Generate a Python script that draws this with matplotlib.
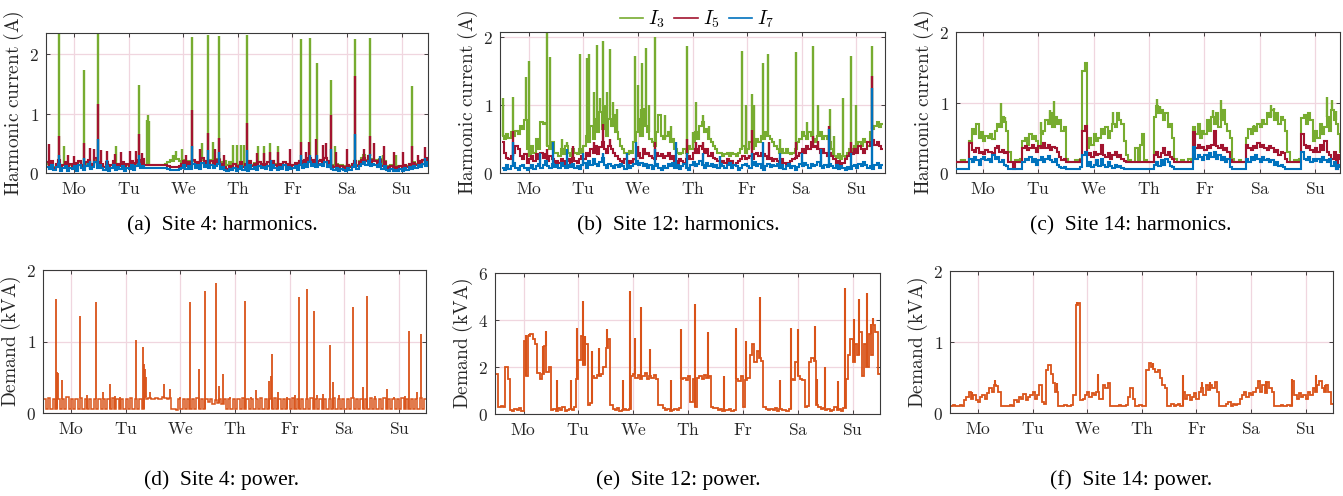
import numpy as np
import matplotlib.pyplot as plt

plt.rcParams['mathtext.fontset'] = 'cm'

days = ["Mo", "Tu", "We", "Th", "Fr", "Sa", "Su"]

# hourly readings, one row per day (noon before -> noon after the day tick)
# ---- site 4 harmonics (A)
s4_i3 = [
    [0.15, 0.12, 0.18, 0.10, 0.14, 0.20, 0.10, 0.13, 0.17, 0.10, 0.14, 0.12, 0.15, 0.10, 0.18, 0.12, 0.10, 0.16, 0.20, 0.12, 0.15, 0.22, 0.14, 0.18],
    [0.14, 0.10, 0.16, 0.09, 0.13, 0.18, 0.10, 0.15, 0.11, 0.17, 0.09, 0.14, 0.12, 0.18, 0.10, 0.16, 0.20, 0.14, 0.20, 0.14, 0.14, 0.14, 0.14, 0.14],
    [0.14, 0.14, 0.14, 0.14, 0.15, 0.18, 0.22, 0.20, 0.28, 0.24, 0.20, 0.16, 0.22, 0.13, 0.20, 0.12, 0.20, 0.15, 0.18, 0.14, 0.22, 0.16, 0.20, 0.15],
    [0.22, 0.16, 0.20, 0.24, 0.15, 0.18, 0.20, 0.14, 0.18, 0.15, 0.16, 0.12, 0.14, 0.18, 0.12, 0.16, 0.12, 0.20, 0.14, 0.17, 0.12, 0.18, 0.14, 0.16],
    [0.14, 0.18, 0.12, 0.20, 0.15, 0.12, 0.16, 0.13, 0.18, 0.12, 0.15, 0.12, 0.14, 0.17, 0.12, 0.20, 0.15, 0.22, 0.17, 0.24, 0.20, 0.22, 0.17, 0.20],
    [0.22, 0.20, 0.25, 0.17, 0.20, 0.14, 0.12, 0.15, 0.10, 0.13, 0.12, 0.11, 0.14, 0.12, 0.16, 0.20, 0.14, 0.20, 0.25, 0.30, 0.22, 0.28, 0.20, 0.24],
    [0.22, 0.18, 0.24, 0.15, 0.20, 0.12, 0.10, 0.13, 0.10, 0.12, 0.11, 0.12, 0.10, 0.14, 0.12, 0.16, 0.14, 0.18, 0.16, 0.20, 0.18, 0.22, 0.20, 0.24],
]
s4_i5 = [
    [0.18, 0.12, 0.20, 0.09, 0.16, 0.22, 0.10, 0.14, 0.19, 0.08, 0.15, 0.12, 0.17, 0.09, 0.20, 0.13, 0.10, 0.18, 0.22, 0.12, 0.16, 0.25, 0.14, 0.19],
    [0.15, 0.10, 0.18, 0.08, 0.14, 0.20, 0.09, 0.16, 0.11, 0.19, 0.08, 0.15, 0.12, 0.20, 0.10, 0.17, 0.22, 0.14, 0.24, 0.13, 0.13, 0.13, 0.13, 0.13],
    [0.13, 0.13, 0.13, 0.13, 0.13, 0.12, 0.10, 0.10, 0.10, 0.10, 0.11, 0.15, 0.20, 0.12, 0.18, 0.10, 0.22, 0.15, 0.19, 0.12, 0.25, 0.16, 0.20, 0.14],
    [0.20, 0.13, 0.18, 0.22, 0.12, 0.16, 0.10, 0.07, 0.12, 0.09, 0.15, 0.08, 0.12, 0.18, 0.10, 0.15, 0.09, 0.20, 0.12, 0.16, 0.10, 0.18, 0.13, 0.15],
    [0.12, 0.18, 0.10, 0.20, 0.14, 0.09, 0.16, 0.12, 0.19, 0.10, 0.15, 0.11, 0.13, 0.17, 0.10, 0.20, 0.14, 0.22, 0.16, 0.25, 0.18, 0.22, 0.15, 0.20],
    [0.22, 0.18, 0.25, 0.15, 0.20, 0.12, 0.10, 0.14, 0.08, 0.12, 0.10, 0.09, 0.13, 0.10, 0.15, 0.20, 0.12, 0.18, 0.22, 0.25, 0.20, 0.28, 0.18, 0.22],
    [0.20, 0.15, 0.22, 0.12, 0.18, 0.10, 0.08, 0.12, 0.07, 0.10, 0.09, 0.11, 0.08, 0.13, 0.10, 0.15, 0.12, 0.17, 0.14, 0.20, 0.16, 0.22, 0.18, 0.25],
]
s4_i7 = [
    [0.10, 0.06, 0.13, 0.05, 0.10, 0.15, 0.04, 0.08, 0.12, 0.03, 0.09, 0.06, 0.11, 0.04, 0.13, 0.08, 0.05, 0.12, 0.16, 0.07, 0.10, 0.18, 0.09, 0.13],
    [0.09, 0.05, 0.12, 0.04, 0.08, 0.13, 0.05, 0.10, 0.06, 0.12, 0.04, 0.09, 0.07, 0.13, 0.05, 0.11, 0.15, 0.08, 0.12, 0.08, 0.08, 0.08, 0.08, 0.08],
    [0.08, 0.08, 0.08, 0.08, 0.08, 0.06, 0.05, 0.05, 0.05, 0.05, 0.06, 0.09, 0.13, 0.07, 0.12, 0.06, 0.15, 0.09, 0.13, 0.07, 0.17, 0.10, 0.14, 0.09],
    [0.14, 0.08, 0.12, 0.15, 0.07, 0.10, 0.05, 0.03, 0.07, 0.05, 0.09, 0.04, 0.07, 0.12, 0.05, 0.10, 0.04, 0.13, 0.07, 0.10, 0.05, 0.12, 0.08, 0.10],
    [0.07, 0.12, 0.05, 0.14, 0.09, 0.05, 0.10, 0.07, 0.13, 0.05, 0.10, 0.06, 0.08, 0.11, 0.05, 0.14, 0.09, 0.16, 0.10, 0.18, 0.12, 0.15, 0.10, 0.14],
    [0.15, 0.12, 0.18, 0.10, 0.14, 0.07, 0.05, 0.09, 0.04, 0.07, 0.05, 0.04, 0.08, 0.05, 0.10, 0.14, 0.07, 0.12, 0.15, 0.18, 0.13, 0.20, 0.12, 0.15],
    [0.14, 0.10, 0.15, 0.07, 0.12, 0.05, 0.04, 0.07, 0.03, 0.05, 0.04, 0.06, 0.04, 0.08, 0.05, 0.10, 0.07, 0.12, 0.09, 0.14, 0.10, 0.16, 0.12, 0.18],
]
# short bursts: (day, peak)
s4_i3_spikes = [(-0.27, 2.40), (-0.18, 0.45), (0.18, 1.74), (0.45, 2.40), (0.77, 0.45), (1.19, 1.48),
                (1.33, 0.90), (1.35, 0.98), (1.37, 0.88), (1.81, 0.30), (1.87, 0.37), (1.97, 0.40),
                (2.17, 2.29), (2.34, 0.50), (2.45, 2.32), (2.55, 0.52), (2.65, 2.31), (2.91, 0.48),
                (2.98, 0.48), (3.05, 0.48), (3.12, 0.47), (3.17, 2.32), (3.37, 0.45), (3.47, 0.45),
                (3.58, 0.50), (3.74, 0.45), (4.16, 2.26), (4.32, 2.27), (4.44, 1.86), (4.71, 1.56),
                (4.78, 0.45), (5.15, 2.26), (5.41, 2.28), (5.65, 0.30), (5.90, 0.30), (6.18, 1.46)]
s4_i5_spikes = [(-0.45, 0.49), (-0.27, 0.62), (-0.10, 0.30), (0.00, 0.28), (0.18, 0.50), (0.30, 0.42),
                (0.36, 0.40), (0.45, 1.17), (0.50, 0.38), (0.60, 0.37), (0.75, 0.32), (0.87, 0.35),
                (1.02, 0.37), (1.13, 0.37), (1.19, 0.66), (1.25, 0.33), (2.05, 0.30), (2.17, 1.06),
                (2.30, 0.40), (2.45, 0.67), (2.58, 0.40), (2.65, 0.59), (2.75, 0.30), (3.17, 0.84),
                (3.35, 0.33), (3.47, 0.33), (3.58, 0.35), (3.74, 0.35), (3.96, 0.40), (4.16, 0.53),
                (4.25, 0.35), (4.30, 0.53), (4.43, 0.58), (4.55, 0.48), (4.62, 0.50), (4.71, 0.98),
                (4.80, 0.35), (5.00, 0.40), (5.15, 1.64), (5.30, 0.40), (5.41, 0.63), (5.50, 0.50),
                (5.68, 0.45), (5.86, 0.35), (6.02, 0.35), (6.18, 0.46), (6.30, 0.30), (6.43, 0.43)]
s4_i7_spikes = [(-0.27, 0.30), (0.18, 0.25), (0.30, 0.20), (0.45, 0.57), (0.60, 0.22), (1.19, 0.30),
                (2.17, 0.45), (2.45, 0.38), (2.65, 0.35), (3.17, 0.38), (3.60, 0.22), (4.16, 0.30),
                (4.32, 0.30), (4.44, 0.30), (4.71, 0.40), (5.15, 0.66), (5.41, 0.32), (5.60, 0.28),
                (6.43, 0.25)]

# ---- site 12 harmonics (A)
s12_i3 = [
    [0.55, 0.50, 0.58, 0.52, 0.60, 0.55, 0.62, 0.58, 0.70, 0.65, 0.78, 0.35, 0.25, 0.40, 0.30, 0.50, 0.35, 0.75, 0.72, 0.74, 0.40, 0.35, 0.45, 0.30],
    [0.30, 0.25, 0.35, 0.28, 0.40, 0.30, 0.25, 0.35, 0.30, 0.28, 0.35, 0.30, 0.40, 0.55, 0.45, 0.70, 0.50, 0.80, 0.60, 0.90, 0.65, 0.75, 0.55, 0.80],
    [0.70, 0.85, 0.60, 0.50, 0.40, 0.35, 0.30, 0.28, 0.32, 0.30, 0.45, 0.60, 0.80, 0.55, 0.95, 0.70, 0.60, 0.50, 0.45, 0.40, 0.60, 0.85, 0.55, 0.50],
    [0.55, 0.60, 0.45, 0.50, 0.35, 0.30, 0.28, 0.30, 0.35, 0.30, 0.40, 0.35, 0.45, 0.60, 0.50, 0.70, 0.75, 0.60, 0.65, 0.50, 0.45, 0.40, 0.35, 0.30],
    [0.30, 0.25, 0.28, 0.30, 0.25, 0.30, 0.28, 0.25, 0.30, 0.35, 0.40, 0.30, 0.35, 0.45, 0.35, 0.40, 0.50, 0.45, 0.55, 0.50, 0.60, 0.55, 0.50, 0.45],
    [0.40, 0.35, 0.30, 0.35, 0.30, 0.35, 0.30, 0.28, 0.30, 0.35, 0.45, 0.50, 0.60, 0.55, 0.50, 0.60, 0.55, 0.50, 0.45, 0.55, 0.60, 0.50, 0.55, 0.50],
    [0.45, 0.35, 0.25, 0.22, 0.28, 0.20, 0.25, 0.22, 0.30, 0.35, 0.30, 0.40, 0.35, 0.45, 0.40, 0.50, 0.45, 0.40, 0.60, 0.65, 0.70, 0.75, 0.68, 0.72],
]
s12_i5 = [
    [0.45, 0.30, 0.22, 0.20, 0.25, 0.30, 0.40, 0.35, 0.25, 0.20, 0.28, 0.15, 0.20, 0.25, 0.18, 0.28, 0.20, 0.30, 0.22, 0.28, 0.18, 0.25, 0.20, 0.15],
    [0.18, 0.15, 0.20, 0.14, 0.18, 0.20, 0.15, 0.22, 0.18, 0.15, 0.20, 0.25, 0.20, 0.30, 0.25, 0.35, 0.30, 0.40, 0.28, 0.38, 0.45, 0.35, 0.30, 0.40],
    [0.35, 0.30, 0.25, 0.20, 0.18, 0.15, 0.20, 0.15, 0.18, 0.15, 0.20, 0.25, 0.30, 0.22, 0.35, 0.28, 0.30, 0.25, 0.22, 0.20, 0.30, 0.25, 0.28, 0.22],
    [0.25, 0.30, 0.20, 0.25, 0.18, 0.15, 0.20, 0.18, 0.15, 0.20, 0.25, 0.20, 0.30, 0.35, 0.30, 0.40, 0.35, 0.30, 0.35, 0.25, 0.30, 0.22, 0.20, 0.18],
    [0.15, 0.18, 0.15, 0.20, 0.15, 0.18, 0.12, 0.15, 0.18, 0.20, 0.25, 0.20, 0.22, 0.25, 0.20, 0.28, 0.30, 0.25, 0.30, 0.28, 0.25, 0.20, 0.22, 0.18],
    [0.20, 0.18, 0.15, 0.20, 0.15, 0.12, 0.15, 0.18, 0.20, 0.22, 0.25, 0.30, 0.35, 0.30, 0.40, 0.35, 0.45, 0.38, 0.40, 0.35, 0.30, 0.35, 0.30, 0.25],
    [0.30, 0.25, 0.20, 0.15, 0.18, 0.12, 0.15, 0.20, 0.25, 0.30, 0.28, 0.35, 0.30, 0.40, 0.35, 0.30, 0.35, 0.45, 0.40, 0.48, 0.42, 0.45, 0.40, 0.35],
]
s12_i7 = [
    [0.08, 0.05, 0.12, 0.06, 0.10, 0.15, 0.08, 0.05, 0.10, 0.12, 0.07, 0.04, 0.08, 0.12, 0.06, 0.10, 0.14, 0.08, 0.12, 0.18, 0.10, 0.07, 0.13, 0.09],
    [0.12, 0.08, 0.15, 0.10, 0.07, 0.12, 0.09, 0.14, 0.08, 0.10, 0.06, 0.12, 0.15, 0.08, 0.18, 0.12, 0.20, 0.14, 0.10, 0.16, 0.22, 0.12, 0.08, 0.14],
    [0.10, 0.07, 0.12, 0.09, 0.14, 0.10, 0.06, 0.12, 0.08, 0.11, 0.14, 0.18, 0.12, 0.15, 0.10, 0.13, 0.08, 0.12, 0.06, 0.10, 0.14, 0.08, 0.05, 0.10],
    [0.08, 0.13, 0.10, 0.15, 0.08, 0.12, 0.06, 0.10, 0.14, 0.08, 0.05, 0.12, 0.16, 0.10, 0.14, 0.18, 0.12, 0.08, 0.15, 0.10, 0.13, 0.09, 0.12, 0.08],
    [0.14, 0.10, 0.07, 0.12, 0.15, 0.08, 0.12, 0.10, 0.05, 0.08, 0.12, 0.14, 0.10, 0.07, 0.12, 0.16, 0.10, 0.13, 0.08, 0.05, 0.10, 0.13, 0.09, 0.12],
    [0.10, 0.14, 0.08, 0.12, 0.06, 0.10, 0.13, 0.08, 0.11, 0.05, 0.09, 0.13, 0.10, 0.15, 0.12, 0.08, 0.14, 0.10, 0.12, 0.16, 0.10, 0.07, 0.12, 0.09],
    [0.13, 0.10, 0.08, 0.12, 0.06, 0.10, 0.08, 0.05, 0.09, 0.06, 0.10, 0.12, 0.08, 0.14, 0.10, 0.16, 0.12, 0.08, 0.10, 0.06, 0.12, 0.15, 0.08, 0.12],
]
s12_i3_spikes = [(-0.48, 1.10), (-0.30, 1.12), (-0.05, 1.41), (0.01, 1.65), (0.34, 2.10), (0.39, 1.71),
                 (0.60, 0.50), (0.70, 0.45), (0.94, 1.75), (1.06, 1.70), (1.10, 1.75), (1.20, 1.20),
                 (1.24, 1.89), (1.30, 1.10), (1.36, 1.94), (1.40, 1.00), (1.44, 1.20), (1.49, 1.83),
                 (1.55, 1.05), (1.62, 0.95), (1.94, 1.72), (2.00, 1.30), (2.05, 0.95), (2.08, 1.62),
                 (2.14, 1.85), (2.20, 1.00), (2.31, 2.01), (2.50, 0.85), (2.60, 0.70), (2.89, 1.87),
                 (3.00, 0.60), (3.07, 1.05), (3.20, 0.85), (3.30, 0.70), (3.90, 1.80), (3.98, 1.00),
                 (4.10, 1.16), (4.13, 1.00), (4.29, 1.63), (4.39, 1.75), (4.60, 0.50), (4.90, 1.78),
                 (5.10, 0.75), (5.21, 1.87), (5.30, 1.00), (5.52, 0.95), (5.60, 0.55), (5.76, 1.10),
                 (5.90, 1.73), (5.99, 1.00), (6.30, 1.88)]
s12_i5_spikes = [(-0.30, 0.62), (0.34, 0.35), (0.80, 0.40), (1.20, 0.45), (1.35, 0.72), (1.48, 0.50),
                 (2.00, 0.40), (2.31, 0.45), (2.89, 0.50), (3.07, 0.45), (3.20, 0.45), (4.10, 0.63),
                 (4.40, 0.45), (4.90, 0.45), (5.21, 0.55), (5.30, 0.47), (5.50, 0.70), (5.90, 0.45),
                 (6.30, 1.43)]
s12_i7_spikes = [(-0.30, 0.45), (0.20, 0.30), (0.45, 0.45), (0.70, 0.35), (1.00, 0.30), (1.35, 0.30),
                 (1.80, 0.30), (1.96, 0.45), (2.31, 0.35), (2.70, 0.45), (2.89, 0.30), (3.20, 0.30),
                 (3.50, 0.25), (4.10, 0.30), (4.29, 0.45), (4.60, 0.30), (5.00, 0.30), (5.35, 0.35),
                 (5.50, 0.65), (5.90, 0.30), (6.30, 1.26)]

# ---- site 14 harmonics (A)
s14_i3 = [
    [0.15, 0.16, 0.15, 0.18, 0.15, 0.16, 0.45, 0.62, 0.55, 0.70, 0.50, 0.58, 0.45, 0.52, 0.50, 0.55, 0.48, 0.60, 0.70, 0.65, 0.80, 0.72, 0.60, 0.30],
    [0.16, 0.15, 0.18, 0.15, 0.20, 0.45, 0.50, 0.40, 0.55, 0.48, 0.52, 0.45, 0.35, 0.55, 0.60, 0.75, 0.70, 0.85, 0.65, 0.80, 0.70, 0.75, 0.60, 0.65],
    [0.20, 0.15, 0.16, 0.15, 0.18, 0.15, 0.20, 1.45, 1.56, 0.35, 0.50, 0.40, 0.55, 0.45, 0.50, 0.62, 0.55, 0.65, 0.50, 0.60, 0.70, 0.65, 0.85, 0.75],
    [0.70, 0.45, 0.25, 0.18, 0.15, 0.16, 0.35, 0.15, 0.40, 0.55, 0.18, 0.15, 0.15, 0.16, 0.80, 0.95, 0.85, 0.90, 0.75, 0.85, 0.65, 0.70, 0.50, 0.20],
    [0.16, 0.15, 0.18, 0.15, 0.16, 0.20, 0.15, 0.65, 0.55, 0.70, 0.50, 0.60, 0.55, 0.75, 0.60, 0.80, 0.70, 0.85, 0.65, 0.75, 0.90, 0.70, 0.60, 0.50],
    [0.20, 0.16, 0.15, 0.18, 0.15, 0.16, 0.50, 0.62, 0.55, 0.65, 0.60, 0.70, 0.65, 0.75, 0.70, 0.85, 0.80, 0.90, 0.75, 0.85, 0.70, 0.80, 0.75, 0.60],
    [0.30, 0.16, 0.15, 0.18, 0.16, 0.20, 0.78, 0.82, 0.70, 0.85, 0.75, 0.45, 0.60, 0.50, 0.70, 0.55, 0.65, 0.80, 0.60, 0.90, 0.75, 0.70, 0.55, 0.30],
]
s14_i5 = [
    [0.15, 0.15, 0.16, 0.15, 0.15, 0.15, 0.42, 0.32, 0.30, 0.35, 0.28, 0.30, 0.27, 0.32, 0.30, 0.30, 0.28, 0.35, 0.38, 0.30, 0.33, 0.28, 0.30, 0.15],
    [0.15, 0.05, 0.15, 0.15, 0.16, 0.35, 0.38, 0.33, 0.36, 0.40, 0.35, 0.30, 0.38, 0.36, 0.42, 0.35, 0.40, 0.33, 0.37, 0.35, 0.30, 0.22, 0.18, 0.20],
    [0.15, 0.15, 0.16, 0.15, 0.15, 0.16, 0.18, 0.60, 0.67, 0.25, 0.28, 0.22, 0.30, 0.25, 0.27, 0.40, 0.25, 0.22, 0.28, 0.20, 0.25, 0.30, 0.22, 0.25],
    [0.20, 0.17, 0.15, 0.15, 0.15, 0.16, 0.15, 0.15, 0.16, 0.15, 0.15, 0.15, 0.16, 0.15, 0.25, 0.30, 0.22, 0.28, 0.35, 0.25, 0.30, 0.22, 0.20, 0.15],
    [0.15, 0.15, 0.16, 0.15, 0.15, 0.15, 0.16, 0.58, 0.35, 0.40, 0.35, 0.37, 0.33, 0.38, 0.35, 0.40, 0.60, 0.38, 0.35, 0.40, 0.33, 0.35, 0.30, 0.18],
    [0.15, 0.15, 0.15, 0.16, 0.15, 0.15, 0.40, 0.35, 0.33, 0.38, 0.35, 0.43, 0.37, 0.40, 0.35, 0.32, 0.38, 0.35, 0.30, 0.33, 0.25, 0.30, 0.28, 0.20],
    [0.15, 0.15, 0.16, 0.15, 0.15, 0.15, 0.55, 0.40, 0.35, 0.38, 0.33, 0.30, 0.35, 0.30, 0.40, 0.33, 0.45, 0.30, 0.25, 0.20, 0.30, 0.05, 0.25, 0.20],
]
s14_i7 = [
    [0.05, 0.05, 0.05, 0.06, 0.05, 0.05, 0.20, 0.15, 0.22, 0.18, 0.12, 0.20, 0.22, 0.18, 0.20, 0.15, 0.25, 0.20, 0.22, 0.15, 0.18, 0.12, 0.10, 0.05],
    [0.05, 0.05, 0.05, 0.05, 0.06, 0.15, 0.20, 0.18, 0.22, 0.15, 0.20, 0.12, 0.18, 0.22, 0.15, 0.20, 0.24, 0.18, 0.15, 0.20, 0.12, 0.08, 0.07, 0.08],
    [0.05, 0.05, 0.05, 0.06, 0.05, 0.05, 0.08, 0.25, 0.30, 0.10, 0.15, 0.08, 0.12, 0.18, 0.10, 0.20, 0.12, 0.08, 0.15, 0.10, 0.07, 0.12, 0.08, 0.10],
    [0.07, 0.05, 0.05, 0.05, 0.06, 0.05, 0.05, 0.06, 0.05, 0.05, 0.05, 0.06, 0.05, 0.05, 0.12, 0.15, 0.10, 0.18, 0.12, 0.20, 0.15, 0.10, 0.08, 0.05],
    [0.05, 0.05, 0.05, 0.06, 0.05, 0.05, 0.05, 0.37, 0.20, 0.25, 0.22, 0.18, 0.25, 0.20, 0.28, 0.22, 0.30, 0.20, 0.25, 0.18, 0.22, 0.15, 0.20, 0.08],
    [0.05, 0.05, 0.06, 0.05, 0.05, 0.05, 0.20, 0.15, 0.22, 0.18, 0.25, 0.20, 0.15, 0.22, 0.18, 0.20, 0.15, 0.18, 0.12, 0.15, 0.10, 0.12, 0.08, 0.05],
    [0.05, 0.05, 0.05, 0.05, 0.06, 0.05, 0.30, 0.20, 0.18, 0.22, 0.15, 0.20, 0.17, 0.20, 0.15, 0.22, 0.18, 0.15, 0.20, 0.10, 0.15, 0.05, 0.12, 0.08],
]
s14_i3_spikes = [(-0.40, 0.20), (0.33, 1.00), (0.40, 0.80), (1.05, 0.72), (1.20, 0.90), (1.28, 1.02),
                 (2.35, 0.87), (3.15, 1.05), (3.20, 0.95), (4.15, 0.90), (4.30, 1.04), (4.90, 0.68),
                 (5.20, 0.97), (5.25, 0.92), (6.22, 1.08), (6.31, 1.03), (6.37, 0.88)]

# ---- demand (kVA)
s4_kva = [
    [0.20, 0.06, 0.21, 0.05, 0.19, 0.05, 0.20, 0.06, 0.20, 0.05, 0.22, 0.05, 0.19, 0.06, 0.20, 0.05, 0.21, 0.06, 0.20, 0.05, 0.19, 0.06, 0.20, 0.05],
    [0.20, 0.05, 0.19, 0.06, 0.20, 0.05, 0.21, 0.05, 0.20, 0.06, 0.19, 0.05, 0.20, 0.05, 0.21, 0.06, 0.20, 0.05, 0.19, 0.05, 0.22, 0.20, 0.21, 0.20],
    [0.20, 0.21, 0.20, 0.20, 0.22, 0.21, 0.20, 0.21, 0.05, 0.05, 0.04, 0.20, 0.05, 0.19, 0.06, 0.20, 0.05, 0.20, 0.06, 0.21, 0.05, 0.19, 0.06, 0.20],
    [0.15, 0.20, 0.12, 0.18, 0.14, 0.20, 0.13, 0.19, 0.05, 0.20, 0.06, 0.19, 0.05, 0.20, 0.05, 0.21, 0.06, 0.20, 0.05, 0.19, 0.06, 0.20, 0.05, 0.21],
    [0.05, 0.20, 0.06, 0.19, 0.05, 0.21, 0.05, 0.20, 0.06, 0.19, 0.05, 0.20, 0.05, 0.21, 0.06, 0.20, 0.05, 0.19, 0.06, 0.20, 0.05, 0.21, 0.06, 0.20],
    [0.05, 0.19, 0.06, 0.20, 0.05, 0.20, 0.06, 0.21, 0.05, 0.19, 0.05, 0.20, 0.06, 0.20, 0.05, 0.21, 0.06, 0.19, 0.05, 0.20, 0.06, 0.20, 0.05, 0.21],
    [0.06, 0.20, 0.05, 0.19, 0.06, 0.21, 0.05, 0.20, 0.05, 0.19, 0.06, 0.20, 0.05, 0.21, 0.06, 0.20, 0.05, 0.19, 0.06, 0.20, 0.05, 0.21, 0.06, 0.20],
]
s4_kva_spikes = [(-0.27, 1.60), (-0.25, 0.58), (-0.23, 0.56), (-0.16, 0.46), (0.17, 1.35), (0.30, 0.25),
                 (0.45, 1.55), (0.59, 0.30), (0.72, 0.40), (0.80, 0.24), (0.90, 0.22), (1.19, 1.02),
                 (1.32, 0.92), (1.33, 0.68), (1.35, 0.62), (1.37, 0.50), (1.45, 0.30), (1.71, 0.40),
                 (1.82, 0.33), (2.00, 0.22), (2.18, 1.55), (2.34, 0.62), (2.45, 1.70), (2.66, 1.82),
                 (2.70, 0.38), (2.78, 0.55), (2.90, 0.22), (3.18, 1.56), (3.30, 0.22), (3.39, 0.32),
                 (3.62, 0.45), (3.66, 0.52), (3.68, 0.83), (3.78, 0.30), (3.95, 0.23), (4.10, 0.25),
                 (4.17, 1.62), (4.32, 1.73), (4.44, 1.43), (4.50, 0.25), (4.60, 0.27), (4.73, 0.95),
                 (4.79, 0.44), (4.90, 0.25), (5.16, 1.48), (5.34, 0.36), (5.42, 1.63), (5.55, 0.24),
                 (5.78, 0.33), (5.90, 0.22), (6.10, 0.24), (6.18, 1.15), (6.33, 0.30), (6.39, 1.10)]

s12_kva = [
    [1.70, 0.30, 0.32, 0.30, 2.00, 1.50, 0.15, 0.12, 0.20, 0.15, 0.25, 0.12, 3.10, 1.60, 3.30, 3.40, 3.20, 3.00, 1.75, 1.50, 1.70, 2.90, 1.80, 2.00],
    [0.15, 0.20, 0.12, 0.25, 0.15, 0.30, 0.12, 0.18, 0.20, 0.15, 0.28, 1.50, 2.30, 3.30, 2.10, 3.00, 0.40, 0.45, 1.60, 1.55, 1.65, 1.60, 1.70, 2.00],
    [2.80, 3.20, 0.40, 0.20, 0.15, 0.25, 0.12, 0.18, 0.20, 0.15, 0.20, 1.60, 1.70, 1.55, 1.65, 1.50, 1.60, 1.75, 1.50, 1.60, 1.55, 1.65, 1.50, 0.40],
    [0.40, 0.25, 0.15, 0.20, 0.12, 0.18, 0.20, 0.15, 0.25, 1.50, 1.55, 1.45, 1.60, 0.50, 1.50, 0.30, 1.55, 1.60, 1.50, 1.65, 1.55, 1.60, 0.30, 0.25],
    [0.25, 0.15, 0.20, 0.12, 0.18, 0.15, 0.20, 0.12, 0.18, 1.50, 1.40, 1.60, 0.30, 1.45, 1.55, 2.50, 3.00, 2.20, 2.70, 2.40, 2.25, 0.30, 0.20, 0.15],
    [0.20, 0.15, 0.25, 0.12, 0.20, 0.15, 0.18, 0.12, 0.20, 1.50, 1.45, 2.20, 1.60, 1.50, 1.45, 0.30, 0.35, 2.20, 2.40, 2.25, 0.40, 0.30, 0.20, 0.25],
    [0.15, 0.20, 0.12, 0.18, 0.30, 0.15, 0.20, 0.12, 0.25, 1.50, 2.50, 3.20, 2.20, 3.00, 2.50, 3.50, 1.60, 3.00, 2.00, 3.40, 2.50, 3.80, 3.50, 1.70],
]
s12_kva_spikes = [(-0.32, 2.00), (0.05, 3.35), (0.10, 3.40), (0.36, 2.90), (0.41, 3.55), (0.61, 1.45),
                  (0.86, 1.45), (0.97, 3.65), (1.09, 4.79), (1.12, 3.30), (1.25, 2.70), (1.37, 2.80),
                  (1.53, 3.60), (1.81, 1.45), (1.94, 5.25), (2.03, 3.25), (2.15, 4.55), (2.31, 2.75),
                  (2.69, 1.45), (2.88, 3.60), (3.13, 4.70), (3.37, 3.50), (3.65, 1.60), (3.88, 3.65),
                  (4.05, 3.10), (4.31, 5.00), (4.67, 1.45), (4.87, 3.65), (5.01, 3.60), (5.31, 3.75),
                  (5.35, 1.50), (5.50, 2.00), (5.74, 1.40), (5.87, 5.35), (6.03, 4.05), (6.12, 4.90),
                  (6.27, 5.15), (6.33, 3.85), (6.38, 4.10)]

s14_kva = [
    [0.10, 0.11, 0.10, 0.10, 0.11, 0.10, 0.18, 0.22, 0.30, 0.20, 0.25, 0.18, 0.15, 0.22, 0.25, 0.20, 0.28, 0.35, 0.30, 0.40, 0.38, 0.30, 0.10, 0.10],
    [0.10, 0.10, 0.11, 0.10, 0.18, 0.15, 0.22, 0.20, 0.27, 0.18, 0.22, 0.25, 0.30, 0.20, 0.25, 0.40, 0.15, 0.12, 0.60, 0.67, 0.55, 0.42, 0.30, 0.10],
    [0.10, 0.10, 0.11, 0.10, 0.10, 0.11, 0.25, 1.52, 1.55, 0.18, 0.20, 0.25, 0.30, 0.22, 0.28, 0.25, 0.30, 0.20, 0.20, 0.40, 0.35, 0.42, 0.10, 0.10],
    [0.10, 0.10, 0.11, 0.10, 0.10, 0.11, 0.22, 0.35, 0.20, 0.10, 0.10, 0.11, 0.10, 0.10, 0.60, 0.70, 0.65, 0.62, 0.58, 0.60, 0.50, 0.40, 0.35, 0.10],
    [0.10, 0.12, 0.10, 0.11, 0.12, 0.10, 0.30, 0.20, 0.25, 0.18, 0.22, 0.28, 0.20, 0.30, 0.35, 0.25, 0.40, 0.32, 0.40, 0.35, 0.44, 0.30, 0.10, 0.10],
    [0.10, 0.12, 0.15, 0.10, 0.13, 0.11, 0.12, 0.20, 0.25, 0.30, 0.22, 0.28, 0.25, 0.30, 0.35, 0.45, 0.30, 0.40, 0.28, 0.44, 0.35, 0.30, 0.10, 0.10],
    [0.10, 0.11, 0.10, 0.10, 0.11, 0.10, 0.45, 0.25, 0.20, 0.28, 0.22, 0.25, 0.20, 0.30, 0.25, 0.35, 0.30, 0.40, 0.45, 0.35, 0.30, 0.40, 0.30, 0.12],
]
s14_kva_spikes = [(-0.10, 0.30), (0.31, 0.47), (1.33, 0.67), (1.44, 0.42), (1.82, 1.57), (2.20, 0.55),
                  (2.80, 0.35), (3.20, 0.70), (3.75, 0.53), (4.10, 0.44), (4.25, 0.44), (5.15, 0.45),
                  (5.27, 0.45), (5.75, 0.48), (6.18, 0.53), (6.35, 0.40)]

C_I3, C_I5, C_I7, C_KVA = "#77AC30", "#A2142F", "#0072BD", "#D95319"
GRID = "#f0d6df"
INK = "#262626"


def hourly(rows):
    vals, edges = [], [-0.5]
    for k, r in enumerate(rows):
        edges.extend(np.linspace(k - 0.5, k + 0.5, len(r) + 1)[1:])
        vals.extend(r)
    return np.array(vals), np.array(edges)


def draw(ax, rows, spikes, color, z, lw=1.5):
    vals, edges = hourly(rows)
    ax.stairs(vals, edges, baseline=None, color=color, lw=lw, zorder=z)
    if spikes:
        st = np.array([s[0] for s in spikes])
        sh = np.array([s[1] for s in spikes])
        base = vals[np.clip(np.searchsorted(edges, st) - 1, 0, len(vals) - 1)]
        ax.vlines(st, base, sh, color=color, lw=lw + 0.2, zorder=z)


def style(ax, ylim, yticks, ylabel, xlim):
    ax.set_xlim(*xlim)
    ax.set_ylim(*ylim)
    ax.set_xticks(range(7))
    ax.set_xticklabels([rf"$\mathrm{{{d}}}$" for d in days])
    ax.set_yticks(yticks)
    ax.set_yticklabels([rf"${v}$" for v in yticks])
    ax.tick_params(direction="in", length=3, width=0.6, colors=INK, labelsize=12.5,
                   top=True, right=True, pad=5)
    ax.grid(True, color=GRID, lw=0.9)
    ax.set_axisbelow(True)
    for sp in ax.spines.values():
        sp.set_color("#3a3a3a")
        sp.set_linewidth(0.8)
    ax.set_ylabel(ylabel, fontsize=14, color=INK, labelpad=2)


fig = plt.figure(figsize=(13.43, 4.96), dpi=100)
W, H = 1343, 496


def add_axes(l, t, r, b):
    return fig.add_axes([l / W, 1 - b / H, (r - l) / W, (b - t) / H])


ax_a = add_axes(46, 33, 428, 173)
ax_b = add_axes(500, 32, 885, 173)
ax_c = add_axes(956, 32, 1340, 173)
ax_d = add_axes(43, 270, 426, 413)
ax_e = add_axes(495, 273, 880, 414)
ax_f = add_axes(950, 271, 1333, 413)

hlab = r"$\mathrm{Harmonic\ current\ (A)}$"
dlab = r"$\mathrm{Demand\ (kVA)}$"

draw(ax_a, s4_i3, s4_i3_spikes, C_I3, 2)
draw(ax_a, s4_i5, s4_i5_spikes, C_I5, 3)
draw(ax_a, s4_i7, s4_i7_spikes, C_I7, 4)
style(ax_a, (0, 2.36), [0, 1, 2], hlab, (-0.51, 6.48))

draw(ax_b, s12_i3, s12_i3_spikes, C_I3, 2)
draw(ax_b, s12_i5, s12_i5_spikes, C_I5, 3)
draw(ax_b, s12_i7, s12_i7_spikes, C_I7, 4)
style(ax_b, (0, 2.08), [0, 1, 2], hlab, (-0.53, 6.53))

draw(ax_c, s14_i3, s14_i3_spikes, C_I3, 2)
draw(ax_c, s14_i5, [], C_I5, 3)
draw(ax_c, s14_i7, [], C_I7, 4)
style(ax_c, (0, 2), [0, 1, 2], hlab, (-0.49, 6.45))

draw(ax_d, s4_kva, s4_kva_spikes, C_KVA, 2, lw=1.1)
style(ax_d, (0, 2), [0, 1, 2], dlab, (-0.51, 6.49))
draw(ax_e, s12_kva, s12_kva_spikes, C_KVA, 2, lw=1.3)
style(ax_e, (0, 6), [0, 2, 4, 6], dlab, (-0.52, 6.5))
draw(ax_f, s14_kva, s14_kva_spikes, C_KVA, 2, lw=1.3)
style(ax_f, (0, 2), [0, 1, 2], dlab, (-0.51, 6.5))

# legend above the middle panel
handles = [plt.Line2D([], [], color=c, lw=1.2) for c in (C_I3, C_I5, C_I7)]
fig.legend(handles, [r"$I_3$", r"$I_5$", r"$I_7$"], loc="center", ncol=3,
           bbox_to_anchor=(697 / W, 1 - 19 / H), frameon=False, fontsize=14,
           handlelength=1.2, handletextpad=0.25, columnspacing=0.5)

captions = ["(a)  Site 4: harmonics.", "(b)  Site 12: harmonics.", "(c)  Site 14: harmonics.",
            "(d)  Site 4: power.", "(e)  Site 12: power.", "(f)  Site 14: power."]
for i, cap in enumerate(captions):
    x = [222, 678, 1131][i % 3]
    y = [226, 480][i // 3]
    fig.text(x / W, 1 - y / H, cap, ha="center", va="center",
             family="Liberation Serif", fontsize=15.5)

fig.savefig("out.png", dpi=100)
